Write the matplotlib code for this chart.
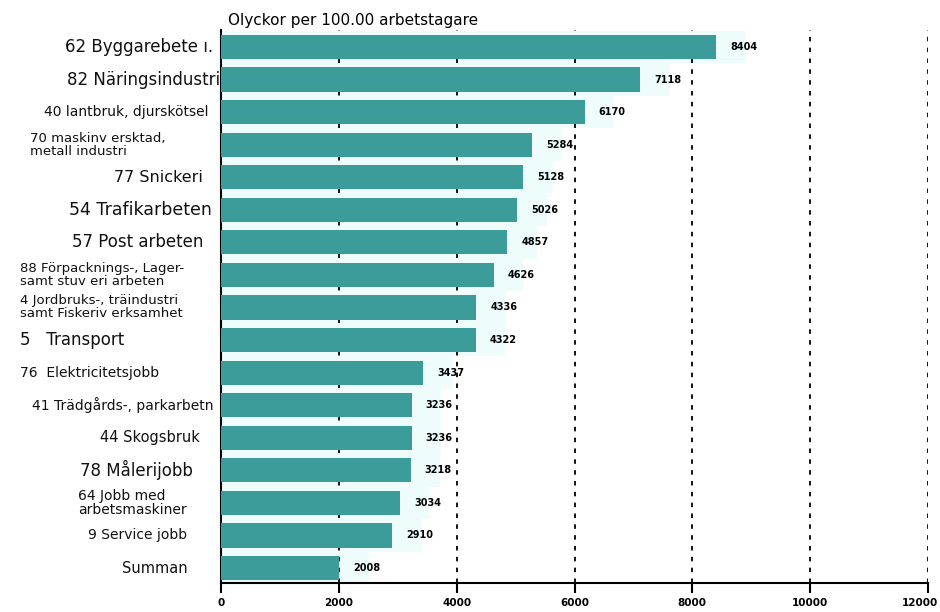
import matplotlib
matplotlib.use("Agg")
from matplotlib import pyplot as plt
import matplotlib.transforms as mtransforms

# data
categories = [
    "62 Byggarebete \u0131.",
    "82 Näringsindustri",
    "40 lantbruk, djurskötsel",
    "70 maskinv ersktad,\nmetall industri",
    "77 Snickeri",
    "54 Trafikarbeten",
    "57 Post arbeten",
    "88 Förpacknings-, Lager-\nsamt stuv eri arbeten",
    "4 Jordbruks-, träindustri\nsamt Fiskeriv erksamhet",
    "5   Transport",
    "76  Elektricitetsjobb",
    "41 Trädgårds-, parkarbetn",
    "44 Skogsbruk",
    "78 Målerijobb",
    "64 Jobb med\narbetsmaskiner",
    "9 Service jobb",
    "Summan",
]
values = [8404, 7118, 6170, 5284, 5128, 5026, 4857, 4626, 4336, 4322,
          3437, 3236, 3236, 3218, 3034, 2910, 2008]
value_labels = ["8404", "7118", "6170", "5284", "5128", "5026", "4857", "4626",
                "4336", "4322", "3437", "3236", "3236", "3218", "3034", "2910", "2008"]
xticks = [0, 2000, 4000, 6000, 8000, 10000, 12000]
title = "Olyckor per 100.00 arbetstagare"

# layout of the left labels (figure pixels, alignment, font size)
label_x = [213, 220, 208, 30, 203, 212, 203, 20, 20, 20, 20, 214, 200, 193, 78, 187, 188]
label_ha = ["right", "right", "right", "left", "right", "right", "right", "left", "left",
            "left", "left", "right", "right", "right", "left", "right", "right"]
label_size = [12, 12, 10, 9.5, 11.5, 12.5, 12, 9.5, 9.5, 12, 10, 10, 10.5, 12, 10, 10, 10.5]

teal = "#3b9c9a"
pale = "#effcfc"

fig = plt.figure(figsize=(9.4, 6.12), dpi=100)
ax = fig.add_axes([221 / 940, 1 - 583 / 612, (928 - 221) / 940, (583 - 30) / 612])

y = list(range(len(values)))
ax.barh(y, [v + 500 for v in values], height=1.0, color=pale, zorder=1)
ax.barh(y, values, height=0.74, color=teal, zorder=3)

for xv in xticks[1:]:
    ax.axvline(xv, color="black", linestyle=(0, (2.5, 3.5)), linewidth=1.3, zorder=2)

for i, v in enumerate(values):
    ax.text(v + 240, i, value_labels[i], fontsize=7, fontweight="bold",
            va="center", ha="left", family="DejaVu Sans Condensed", zorder=4)

trans = mtransforms.blended_transform_factory(fig.transFigure, ax.transData)
for i, lab in enumerate(categories):
    ax.text(label_x[i] / 940, i, lab, transform=trans, ha=label_ha[i], va="center",
            fontsize=label_size[i], linespacing=1.0, color="#111111")

ax.set_xlim(0, 12000)
ax.set_ylim(16.46, -0.52)
ax.set_xticks(xticks)
# last tick label is drawn separately, nudged left so it stays inside the picture
ax.set_xticklabels([str(t) for t in xticks[:-1]] + [""], fontsize=7.5, fontweight="bold",
                   family="DejaVu Sans Condensed")
ax.annotate(str(xticks[-1]), xy=(xticks[-1], 0), xycoords=("data", "axes fraction"),
            xytext=(-6, -11), textcoords="offset points", ha="center", va="top",
            fontsize=7.5, fontweight="bold", family="DejaVu Sans Condensed",
            annotation_clip=False)
ax.set_yticks([])
ax.tick_params(axis="x", direction="out", length=7, width=1.5, pad=4)
ax.spines["top"].set_visible(False)
ax.spines["right"].set_visible(False)
ax.spines["left"].set_linewidth(1.5)
ax.spines["bottom"].set_linewidth(1.5)

ax.text(0.01, 1.003, title, transform=ax.transAxes, fontsize=11, ha="left", va="bottom")

fig.savefig("out.png", dpi=100)
